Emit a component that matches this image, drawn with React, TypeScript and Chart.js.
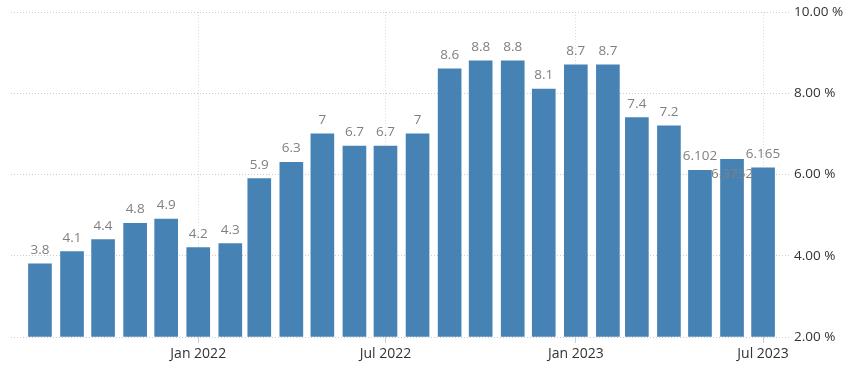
import React, { useEffect, useRef } from "react";
import { Chart, registerables } from "chart.js";

Chart.register(...registerables);

// Monthly categories (first day of month)
const months = [
  "2021-08-01", "2021-09-01", "2021-10-01", "2021-11-01", "2021-12-01",
  "2022-01-01", "2022-02-01", "2022-03-01", "2022-04-01", "2022-05-01",
  "2022-06-01", "2022-07-01", "2022-08-01", "2022-09-01", "2022-10-01",
  "2022-11-01", "2022-12-01", "2023-01-01", "2023-02-01", "2023-03-01",
  "2023-04-01", "2023-05-01", "2023-06-01", "2023-07-01",
];
const values = [
  3.8, 4.1, 4.4, 4.8, 4.9, 4.2, 4.3, 5.9, 6.3, 7, 6.7, 6.7,
  7, 8.6, 8.8, 8.8, 8.1, 8.7, 8.7, 7.4, 7.2, 6.102, 6.3752, 6.165,
];
const tickDates = ["2022-01-01", "2022-07-01", "2023-01-01", "2023-07-01"];
const tickLabels = ["Jan 2022", "Jul 2022", "Jan 2023", "Jul 2023"];
const yTicks = [2, 4, 6, 8, 10];
const rangeStart = "2021-07-04";
const rangeEnd = "2023-07-28";

const dayNum = (s: string) => {
  const [y, m, d] = s.split("-").map(Number);
  return Date.UTC(y, m - 1, d) / 86400000;
};

const FONT = '"Open Sans", "DejaVu Sans", sans-serif';

const labelPlugin = {
  id: "valueLabels",
  afterDatasetsDraw(chart: any) {
    const meta = chart.getDatasetMeta(0);
    const ctx = chart.ctx;
    ctx.save();
    ctx.font = `13.5px ${FONT}`;
    ctx.fillStyle = "#808080";
    ctx.textAlign = "center";
    ctx.textBaseline = "alphabetic";
    const texts = values.map((v) => String(v));
    const boxes = meta.data.map((el: any, i: number) => {
      const w = ctx.measureText(texts[i]).width;
      const base = el.y - 10;
      return { x0: el.x - w / 2, x1: el.x + w / 2, y0: base - 12, y1: base + 3 };
    });
    const overlap = (a: any, b: any) =>
      a && b && a.x0 < b.x1 && b.x0 < a.x1 && a.y0 < b.y1 && b.y0 < a.y1;
    meta.data.forEach((el: any, i: number) => {
      const inside = overlap(boxes[i], boxes[i - 1]) && overlap(boxes[i], boxes[i + 1]);
      ctx.fillText(texts[i], el.x, inside ? el.y + 19 : el.y - 10);
    });
    ctx.restore();
  },
};

export default function App() {
  const ref = useRef<HTMLCanvasElement | null>(null);
  useEffect(() => {
    if (!ref.current) return;
    const chart = new Chart(ref.current, {
      type: "bar",
      data: {
        datasets: [
          {
            data: months.map((m, i) => ({ x: dayNum(m), y: values[i] })),
            backgroundColor: "#4682b4",
            barThickness: 23,
            base: 2,
          } as any,
        ],
      },
      options: {
        animation: false,
        responsive: true,
        maintainAspectRatio: false,
        layout: { padding: { left: 11, top: 12, right: 0, bottom: 0 } },
        plugins: { legend: { display: false }, tooltip: { enabled: false } },
        scales: {
          x: {
            type: "linear",
            offset: false,
            min: dayNum(rangeStart),
            max: dayNum(rangeEnd),
            afterBuildTicks: (scale: any) => {
              scale.ticks = tickDates.map((d) => ({ value: dayNum(d) }));
            },
            afterFit: (scale: any) => {
              scale.height = 34;
            },
            ticks: {
              autoSkip: false,
              maxRotation: 0,
              padding: 3,
              color: "#333333",
              font: { family: FONT, size: 14 },
              callback: (_v: any, i: number) => tickLabels[i],
            },
            grid: {
              offset: false,
              color: "#dddddd",
              drawTicks: true,
              tickLength: 6,
              tickColor: "#cccccc",
              tickBorderDash: [],
            } as any,
            border: { display: false, dash: [1, 2] },
          },
          y: {
            position: "right",
            min: 2,
            max: 10,
            afterBuildTicks: (scale: any) => {
              scale.ticks = yTicks.map((v) => ({ value: v }));
            },
            afterFit: (scale: any) => {
              scale.width = 69;
            },
            ticks: {
              padding: 3,
              color: "#333333",
              font: { family: FONT, size: 13.5 },
              callback: (v: any) => Number(v).toFixed(2) + " %",
            },
            grid: { color: "#cccccc", drawTicks: false },
            border: { display: false, dash: [1, 2] },
          },
        },
      },
      plugins: [labelPlugin],
    });
    return () => chart.destroy();
  }, []);
  return (
    <div style={{ position: "fixed", left: 0, top: 0, width: 860, height: 371, background: "#fff" }}>
      <canvas ref={ref} />
    </div>
  );
}
